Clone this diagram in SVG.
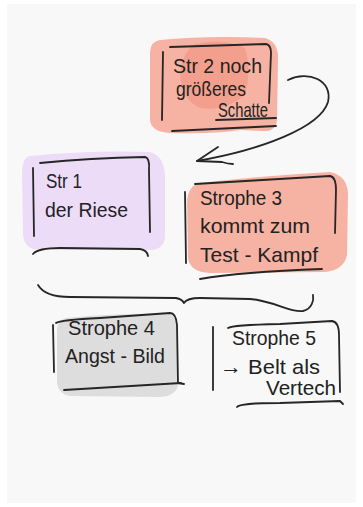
<svg xmlns="http://www.w3.org/2000/svg" width="363" height="507" viewBox="0 0 363 507">
<style>
.ln{fill:none;stroke:#262626;stroke-width:1.8;stroke-linecap:round;stroke-linejoin:round}
.tx{font-family:"Liberation Sans","DejaVu Sans",sans-serif;font-size:21px;fill:#222}
.red{fill:#f6b2a2}
.red2{fill:#f19985;opacity:0.7}
.pur{fill:#eddcf8}
.gry{fill:#dddddd}
</style>
<rect width="363" height="507" fill="#ffffff"/>
<rect x="7" y="4" width="349" height="499" fill="#f8f8f8"/>

<g id="node2">
<path class="red" d="M160,40 Q210,35 265,38 Q279,42 278,60 L277,120 Q276,132 262,131 L240,130 Q215,134 170,133 Q151,132 150,120 L150,52 Q151,41 160,40 Z"/>
<path class="red2" d="M195,44 Q225,38 245,48 Q252,70 245,95 Q225,112 200,108 Q182,100 180,75 Q182,52 195,44 Z"/>
<path class="ln" d="M170,47 L266,44 Q271,45 271,53 L269,103"/>
<path class="ln" d="M163,52 L162,120"/>
<path class="ln" d="M216,120 L276,118"/>
<path class="ln" d="M172,131 L276,126"/>
<text class="tx" x="173" y="73" textLength="89" lengthAdjust="spacingAndGlyphs">Str 2 noch</text>
<text class="tx" x="176" y="96" textLength="70" lengthAdjust="spacingAndGlyphs">größeres</text>
<text class="tx" x="218" y="117" textLength="50" lengthAdjust="spacingAndGlyphs">Schatte</text>
</g>

<g id="node1">
<path class="pur" d="M30,156 Q90,150 150,152 Q164,156 165,175 L165,238 Q163,250 150,250 L40,250 Q24,249 23,235 L22,170 Q23,157 30,156 Z"/>
<path class="ln" d="M40,163 Q90,158 145,157 Q150,158 149,170 L150,232"/>
<path class="ln" d="M33,168 L34,236"/>
<path class="ln" d="M33,254 Q38,248 60,248 L140,249 Q147,250 148,256"/>
<text class="tx" x="46" y="188" textLength="36" lengthAdjust="spacingAndGlyphs">Str 1</text>
<text class="tx" x="45" y="217" textLength="83" lengthAdjust="spacingAndGlyphs">der Riese</text>
</g>

<g id="node3">
<path class="red" d="M200,183 Q260,176 330,172 Q348,176 348,195 L347,255 Q344,270 325,272 L210,273 Q190,272 188,258 L187,200 Q189,185 200,183 Z"/>
<path class="ln" d="M185,192 L186,263"/>
<path class="ln" d="M195,184 L330,176 Q336,177 336,190 L335,233"/>
<path class="ln" d="M200,279 Q240,272 322,269"/>
<text class="tx" x="200" y="205" textLength="82" lengthAdjust="spacingAndGlyphs">Strophe 3</text>
<text class="tx" x="200" y="233" textLength="110" lengthAdjust="spacingAndGlyphs">kommt zum</text>
<text class="tx" x="200" y="262" textLength="118" lengthAdjust="spacingAndGlyphs">Test - Kampf</text>
</g>

<g id="node4">
<path class="gry" d="M66,318 Q120,313 168,314 Q178,316 178,330 L178,385 Q176,396 160,397 L70,396 Q58,394 57,382 L57,330 Q58,319 66,318 Z"/>
<path class="ln" d="M56,323 Q60,320 100,318 L170,313 Q176,313 177,325 L178,383 L184,384"/>
<path class="ln" d="M53,325 L54,372"/>
<path class="ln" d="M64,390 L181,383"/>
<text class="tx" x="68" y="335" textLength="87" lengthAdjust="spacingAndGlyphs">Strophe 4</text>
<text class="tx" x="65" y="363" textLength="100" lengthAdjust="spacingAndGlyphs">Angst - Bild</text>
</g>

<g id="node5">
<path class="ln" d="M213,327 L213,390"/>
<path class="ln" d="M228,328 Q232,325 280,324 L332,321 Q339,322 339,335 L340,392"/>
<path class="ln" d="M237,407 Q240,403 280,403 L340,401 L343,404"/>
<text class="tx" x="232" y="345" textLength="84" lengthAdjust="spacingAndGlyphs">Strophe 5</text>
<text class="tx" x="220" y="374" textLength="100" lengthAdjust="spacingAndGlyphs">→ Belt als</text>
<text class="tx" x="266" y="395" textLength="70" lengthAdjust="spacingAndGlyphs">Vertech</text>
</g>

<g id="connectors">
<path class="ln" d="M288,80 C308,70 333,80 328,102 C320,128 260,150 197,161"/>
<path class="ln" d="M218,147 L197,161 L222,162 Q228,164 233,164"/>
<path class="ln" d="M38,285 Q45,297 70,297 L176,298 Q182,299 184,303 Q187,298 200,298 L250,299 C275,301 290,313 303,311 C312,309 314,300 313,295"/>
</g>
</svg>
